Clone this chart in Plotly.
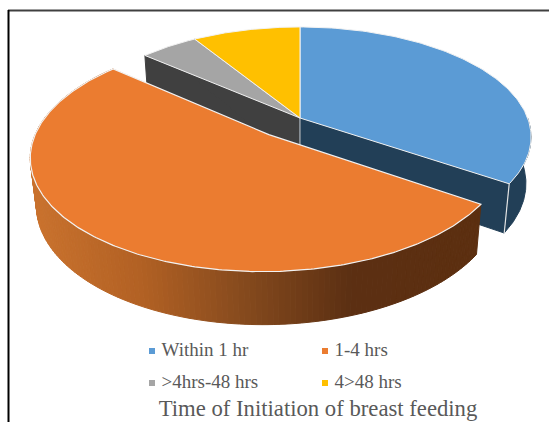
import numpy as np
import plotly.graph_objects as go

# ---- data ----
categories = ["Within 1 hr", "1-4 hrs", ">4hrs-48 hrs", "4>48 hrs"]
shares = [34.4, 51.9, 4.8, 8.9]
title_text = "Time of Initiation of breast feeding"

# ---- style ----
top_colors = ["#5B9BD5", "#EB7C30", "#A5A5A5", "#FFC000"]
wall_colors = ["#223F57", None, "#404040", None]
GRAD = [(35, (201, 114, 46)), (140, (178, 97, 36)), (240, (135, 75, 30)), (350, (92, 48, 19)), (480, (92, 47, 16))]
TEXT = "#595959"
SERIF = "Liberation Serif, Times New Roman, serif"
CX, CY = 300, 118          # pie centre on the page
A, B = 227.6, 106.8        # half axes
K = 0.173                  # perspective strength
DEPTH = 47                 # thickness
CONV = 0.022               # convergence of vertical edges
EXPLODE = {1: (0.202, np.radians(4))}  # pulled-out slices: distance, turn off the mid angle

def project(u, v, low=False):
    w = 1 + K * v
    if low:
        w = w + CONV
        return CX + A * u / w, CY + (-B * v + DEPTH) / w
    return CX + A * u / w, CY - B * v / w

def poly(xs, ys, fill, edge, width=1):
    return go.Scatter(x=list(xs), y=list(ys), mode="lines", fill="toself", fillcolor=fill,
                      line=dict(color=edge, width=width), hoverinfo="skip", showlegend=False)

def shade(x):
    xp = [g[0] for g in GRAD]
    rgb = [np.interp(x, xp, [g[1][i] for g in GRAD]) for i in range(3)]
    return "rgb(%d,%d,%d)" % tuple(rgb)

# slice angles, clockwise from 12 o'clock
edges = np.concatenate([[0], np.cumsum(shares)]) / sum(shares) * 2 * np.pi
slices = []
for i in range(len(shares)):
    a0, a1 = edges[i], edges[i + 1]
    mid = (a0 + a1) / 2
    e, turn = EXPLODE.get(i, (0, 0))
    slices.append(dict(a0=a0, a1=a1, ox=e * np.sin(mid + turn), oy=e * np.cos(mid + turn)))

def arc(s, a0, a1, low=False, n=120):
    t = np.linspace(a0, a1, n)
    return project(np.sin(t) + s["ox"], np.cos(t) + s["oy"], low)

EDGE_W = "#F2F2F2"
traces = []

def radial_wall(i, angle):
    s = slices[i]
    u, v = np.sin(angle) + s["ox"], np.cos(angle) + s["oy"]
    xt, yt = project(np.array([s["ox"], u]), np.array([s["oy"], v]))
    xb, yb = project(np.array([u, s["ox"]]), np.array([v, s["oy"]]), True)
    traces.append(poly(np.r_[xt, xb, xt[0]], np.r_[yt, yb, yt[0]], wall_colors[i], wall_colors[i]))
    traces.append(go.Scatter(x=[xt[0], xb[1]], y=[yt[0], yb[1]], mode="lines",
                             line=dict(color="#BFBFBF", width=1), hoverinfo="skip", showlegend=False))

# far walls first
radial_wall(2, slices[2]["a0"])
radial_wall(2, slices[2]["a1"])

# blue slice: radial wall and outer wall
s = slices[0]
radial_wall(0, s["a1"])
xt, yt = arc(s, np.pi / 2, s["a1"])
xb, yb = arc(s, np.pi / 2, s["a1"], True)
traces.append(poly(np.r_[xt, xb[::-1], xt[0]], np.r_[yt, yb[::-1], yt[0]], wall_colors[0], wall_colors[0]))
cx1, cy1 = project(np.sin(s["a1"]), np.cos(s["a1"]))
cx2, cy2 = project(np.sin(s["a1"]), np.cos(s["a1"]), True)
traces.append(go.Scatter(x=[cx1, cx2], y=[cy1, cy2], mode="lines",
                         line=dict(color="#E6E6E6", width=1.2), hoverinfo="skip", showlegend=False))

# top faces of the slices behind the pulled-out one
for i in [0, 2, 3]:
    s = slices[i]
    x, y = arc(s, s["a0"], s["a1"])
    ax, ay = project(np.array([s["ox"]]), np.array([s["oy"]]))
    traces.append(poly(np.r_[ax, x, ax], np.r_[ay, y, ay], top_colors[i], EDGE_W))

# pulled-out slice: shaded outer wall, then top face
s = slices[1]
steps = np.linspace(s["a0"], s["a1"], 160)
for t0, t1 in zip(steps[:-1], steps[1:]):
    xt, yt = arc(s, t0, t1, n=4)
    xb, yb = arc(s, t0, t1, True, n=4)
    col = shade(float(np.mean(xt)))
    traces.append(poly(np.r_[xt, xb[::-1], xt[0]], np.r_[yt, yb[::-1], yt[0]], col, col))
x, y = arc(s, s["a0"], s["a1"], n=300)
ax, ay = project(np.array([s["ox"]]), np.array([s["oy"]]))
traces.append(poly(np.r_[ax, x, ax], np.r_[ay, y, ay], top_colors[1], EDGE_W, 1.2))

# key
key_x = [152, 325, 152, 325]
key_y = [351, 351, 383, 383]
for name, col, kx, ky in zip(categories, top_colors, key_x, key_y):
    traces.append(go.Scatter(x=[kx], y=[ky], name=name, mode="markers+text", text=["\u00a0" + name],
                             textposition="middle right",
                             textfont=dict(family=SERIF, size=19, color=TEXT),
                             marker=dict(symbol="square", size=6, color=col),
                             hoverinfo="name", showlegend=False))

fig = go.Figure(traces)
fig.update_layout(
    width=549, height=422, margin=dict(l=0, r=0, t=0, b=0),
    paper_bgcolor="white", plot_bgcolor="white", showlegend=False,
    title=dict(text=title_text, x=318 / 549, xanchor="center", xref="paper",
               y=1 - 408 / 422, yanchor="middle", yref="container",
               font=dict(family=SERIF, size=22.7, color=TEXT)),
    xaxis=dict(range=[0, 549], visible=False, fixedrange=True),
    yaxis=dict(range=[422, 0], visible=False, fixedrange=True),
    shapes=[
        dict(type="line", xref="x", yref="y", x0=8, x1=549, y0=10.5, y1=10.5,
             line=dict(color="#404040", width=2)),
        dict(type="line", xref="x", yref="y", x0=8.5, x1=8.5, y0=10, y1=422,
             line=dict(color="#000000", width=2)),
    ],
)
fig.write_html("out.html", config={"displayModeBar": False},
               post_script="document.body.style.margin='0';document.body.style.overflow='hidden';")
